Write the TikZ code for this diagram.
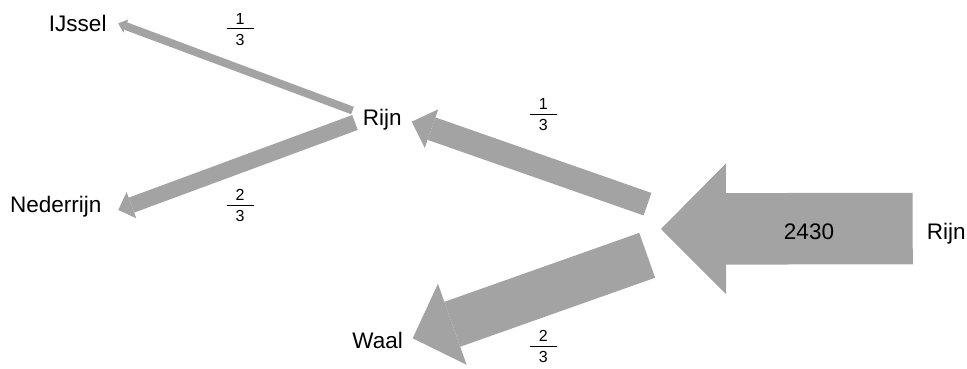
\documentclass[tikz,border=0pt]{standalone}
\usepackage{fontspec}
\setmainfont{Liberation Sans}
\usepackage{xcolor}
\usepackage{tikz}
\usetikzlibrary{arrows.meta}

\definecolor{stroom}{RGB}{163,163,163}
\newcommand{\deel}[2]{\vbox{\hbox to 27pt{\hss#1\hss}\kern4pt\hrule height 0.8pt\kern5pt\hbox to 27pt{\hss#2\hss}}}

\begin{document}
\begin{tikzpicture}[x=1pt,y=-1pt,
  flow/.style n args={3}{draw=stroom,line width=#1,-{Triangle[length=#2,width=#3,line width=0pt]}},
  rivier/.style={font=\fontsize{22.5}{27}\selectfont,inner sep=0pt},
  fractie/.style={font=\fontsize{16}{19}\selectfont,inner sep=0pt}]
\useasboundingbox (0,0) rectangle (967,369);
\coordinate (bron) at (912.7,228.5);
\coordinate (splitsing) at (661,229);
\coordinate (takrijn) at (647.5,204.2);
\coordinate (eindrijn) at (411.7,121.7);
\coordinate (takwaal) at (647.2,255.3);
\coordinate (eindwaal) at (412.7,338.3);
\coordinate (takijssel) at (352.5,110.5);
\coordinate (eindijssel) at (118.3,23.3);
\coordinate (taknederrijn) at (355,122.5);
\coordinate (eindnederrijn) at (118.3,210);
\draw[flow={71.5pt}{65pt}{131pt}] (bron) -- (splitsing);
\draw[flow={23.8pt}{21pt}{41pt}] (takrijn) -- (eindrijn);
\draw[flow={47.6pt}{42pt}{86pt}] (takwaal) -- (eindwaal);
\draw[flow={7.9pt}{8pt}{14pt}] (takijssel) -- (eindijssel);
\draw[flow={15.9pt}{14pt}{28pt}] (taknederrijn) -- (eindnederrijn);
\node[rivier,anchor=base] (getal) at (809,239.5) {2430};
\node[rivier,anchor=base west] (rijnbron) at (926.7,239) {Rijn};
\node[rivier,anchor=base west] (rijn) at (362.7,125) {Rijn};
\node[rivier,anchor=base east] (ijssel) at (106.7,31.7) {IJssel};
\node[rivier,anchor=base west] (nederrijn) at (10,212.7) {Nederrijn};
\node[rivier,anchor=base east] (waal) at (403,348) {Waal};
\node[fractie] (fijssel) at (240,29.3) {\deel{1}{3}};
\node[fractie] (fnederrijn) at (240,205.7) {\deel{2}{3}};
\node[fractie] (frijn) at (543.3,115) {\deel{1}{3}};
\node[fractie] (fwaal) at (543.3,346.7) {\deel{2}{3}};
\end{tikzpicture}
\end{document}
